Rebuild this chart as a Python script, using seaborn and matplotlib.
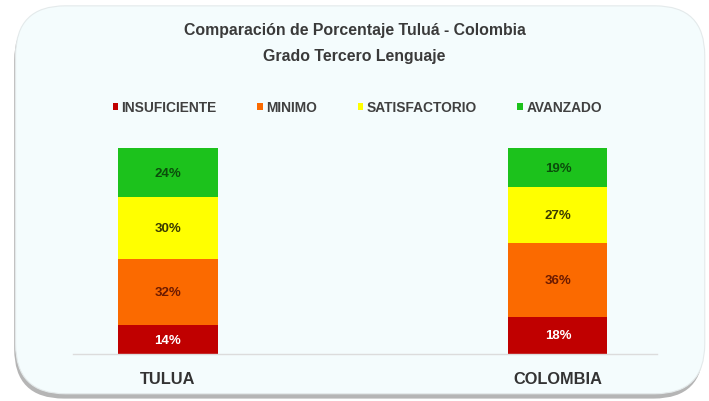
import pandas as pd
import matplotlib.pyplot as plt
import seaborn as sns
from matplotlib.patches import FancyBboxPatch, Patch

regiones = ["TULUA", "COLOMBIA"]
niveles = ["INSUFICIENTE", "MINIMO", "SATISFACTORIO", "AVANZADO"]
tulua = [14, 32, 30, 24]
colombia = [18, 36, 27, 19]
colores = ["#c00000", "#fb6a00", "#ffff00", "#1cc21c"]
color_texto = ["white", "#6b1a00", "#3a3a00", "#0b4d0b"]

filas = []
for reg, vals in zip(regiones, [tulua, colombia]):
    acum = 0
    for niv, v in zip(niveles, vals):
        acum += v
        filas.append({"region": reg, "nivel": niv, "valor": v, "acum": acum})
df = pd.DataFrame(filas)

sns.set_style("white")
plt.rcParams['font.family'] = ['Liberation Sans', 'DejaVu Sans']

fig = plt.figure(figsize=(7.09, 4.02), dpi=100, facecolor="white")

# tarjeta de fondo con sombra
sombra = FancyBboxPatch((0.02, 0.006), 0.972, 0.965, boxstyle="round,pad=0,rounding_size=0.07",
                        transform=fig.transFigure, facecolor="#b5b5b5", edgecolor="none",
                        mutation_aspect=709 / 402, zorder=-2)
tarjeta = FancyBboxPatch((0.022, 0.018), 0.972, 0.965, boxstyle="round,pad=0,rounding_size=0.07",
                         transform=fig.transFigure, facecolor="#f4fcfd", edgecolor="#e4eaeb",
                         linewidth=0.8, mutation_aspect=709 / 402, zorder=-1)
fig.patches.extend([sombra, tarjeta])

ax = fig.add_axes([73 / 709, (402 - 355) / 402, (657 - 73) / 709, 206 / 402])
ax.patch.set_alpha(0)

# barras apiladas: se dibuja primero el total y luego los niveles inferiores
for niv, col in reversed(list(zip(niveles, colores))):
    sub = df[df["nivel"] == niv]
    sns.barplot(data=sub, x="region", y="acum", order=regiones, color=col,
                width=0.254, saturation=1, ax=ax, linewidth=0)

for _, fila in df.iterrows():
    i = regiones.index(fila["region"])
    j = niveles.index(fila["nivel"])
    ax.text(i, fila["acum"] - fila["valor"] / 2, f"{fila['valor']}%", ha="center", va="center",
            fontsize=9.5, fontweight="bold", color=color_texto[j])

ax.set_xlim(-0.2436, 1.254)
ax.set_ylim(0, 100)
ax.set_xlabel("")
ax.set_ylabel("")
ax.set_yticks([])
ax.tick_params(axis="x", length=0, pad=12, labelsize=11.8, labelcolor="#333333")
for lab in ax.get_xticklabels():
    lab.set_fontweight("bold")
for s in ["top", "left", "right"]:
    ax.spines[s].set_visible(False)
ax.spines["bottom"].set_color("#dcdcdc")
ax.spines["bottom"].set_linewidth(1)

fig.text(0.5, 1 - 31 / 402, "Comparación de Porcentaje Tuluá - Colombia", ha="center", va="center",
         fontsize=11.4, fontweight="bold", color="#3a3a3a")
fig.text(0.5, 1 - 56 / 402, "Grado Tercero Lenguaje", ha="center", va="center",
         fontsize=11.4, fontweight="bold", color="#3a3a3a")

manijas = [Patch(facecolor=c, edgecolor="none") for c in colores]
fig.legend(manijas, niveles, ncol=4, loc="center", bbox_to_anchor=(0.504, 1 - 108 / 402),
           frameon=False, handlelength=0.4, handleheight=0.4, handletextpad=0.25,
           columnspacing=2.95, prop={"weight": "bold", "size": 9.9})
for t in fig.legends[0].get_texts():
    t.set_color("#404040")

plt.savefig("out.png", dpi=100, facecolor="white")
